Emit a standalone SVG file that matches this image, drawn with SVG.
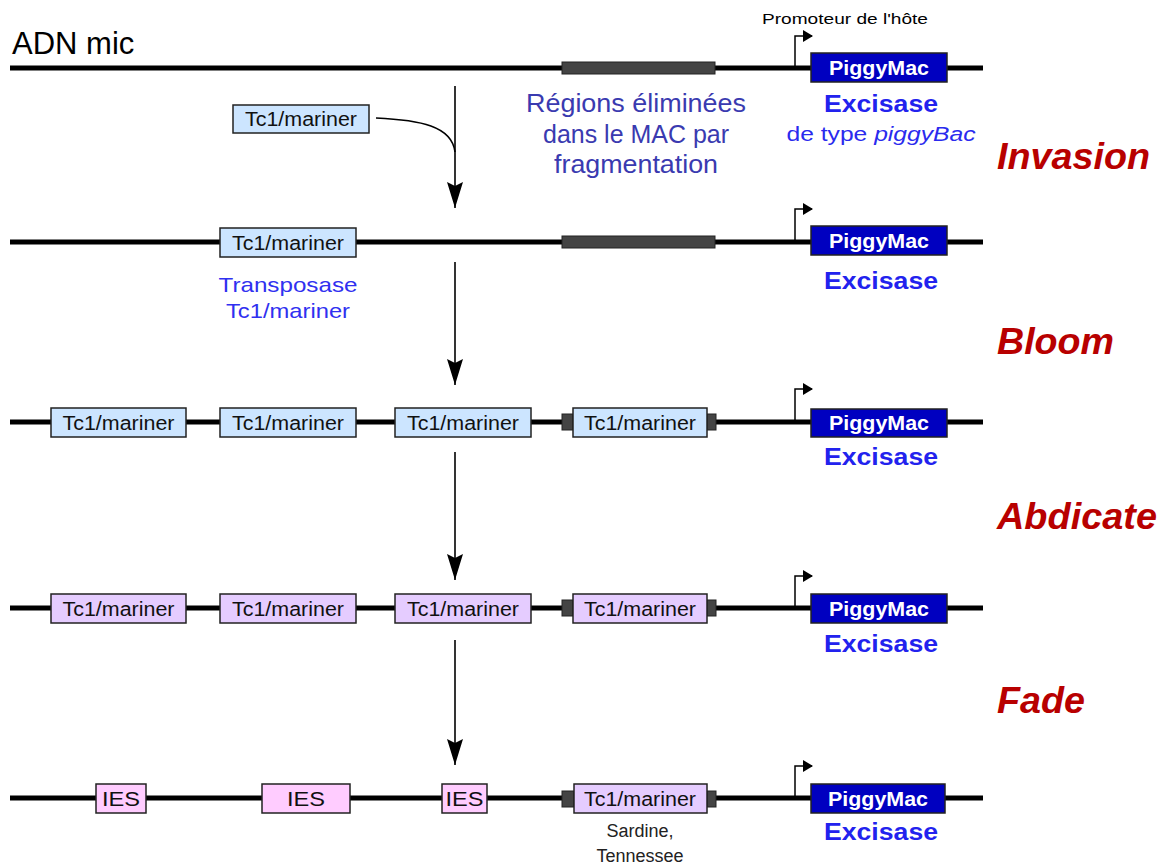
<svg xmlns="http://www.w3.org/2000/svg" width="1167" height="867" viewBox="0 0 1167 867">
<style>
text{font-family:"Liberation Sans",Arial,sans-serif}
.dna{stroke:#000;stroke-width:5;fill:none}
.gray{fill:#444;stroke:#222;stroke-width:1}
.tcb{fill:#cce5ff;stroke:#222;stroke-width:1.5}
.tcp{fill:#e5ccff;stroke:#222;stroke-width:1.5}
.ies{fill:#ffccff;stroke:#222;stroke-width:1.5}
.pm{fill:#0000c0;stroke:#222;stroke-width:1.5}
.lbl{font-size:20px;fill:#111;text-anchor:middle}
.pmt{font-size:20px;font-weight:bold;fill:#fff;text-anchor:middle}
.exc{font-size:23px;font-weight:bold;fill:#2222ee;text-anchor:middle}
.stage{font-size:37px;font-weight:bold;font-style:italic;fill:#b80000}
.prom{stroke:#000;stroke-width:1.5;fill:none}
.flow{stroke:#000;stroke-width:1.6;fill:none}
</style>
<defs>
<marker id="big" markerUnits="userSpaceOnUse" markerWidth="28" markerHeight="16" viewBox="0 0 28 16" refX="26" refY="8" orient="auto">
<path d="M26,8 L0,0 L4,8 L0,16 Z" fill="#000"/>
</marker>
<marker id="small" markerUnits="userSpaceOnUse" markerWidth="10" markerHeight="12" viewBox="0 0 10 12" refX="9" refY="6" orient="auto">
<path d="M0,0 L10,6 L0,12 Z" fill="#000"/>
</marker>
</defs>
<rect width="1167" height="867" fill="#fff"/>

<text x="12" y="54" font-size="31" fill="#000">ADN mic</text>

<g id="dna-lines">
<line class="dna" x1="10" y1="68" x2="983" y2="68"/>
<line class="dna" x1="10" y1="242" x2="983" y2="242"/>
<line class="dna" x1="10" y1="422" x2="983" y2="422"/>
<line class="dna" x1="10" y1="608" x2="983" y2="608"/>
<line class="dna" x1="10" y1="798" x2="983" y2="798"/>
</g>

<g id="connectors">
<path class="flow" d="M376,118 C420,120 452,126 455,152"/>
<line class="flow" x1="455" y1="86" x2="455" y2="208" marker-end="url(#big)"/>
<line class="flow" x1="455" y1="262" x2="455" y2="385" marker-end="url(#big)"/>
<line class="flow" x1="455" y1="452" x2="455" y2="580" marker-end="url(#big)"/>
<line class="flow" x1="455" y1="640" x2="455" y2="765" marker-end="url(#big)"/>
<path class="prom" d="M795,68 V36 H812" marker-end="url(#small)"/>
<path class="prom" d="M795,242 V209 H812" marker-end="url(#small)"/>
<path class="prom" d="M795,422 V389 H812" marker-end="url(#small)"/>
<path class="prom" d="M795,608 V576 H812" marker-end="url(#small)"/>
<path class="prom" d="M795,798 V766 H812" marker-end="url(#small)"/>
</g>

<text x="845" y="24" font-size="14" fill="#000" text-anchor="middle" textLength="166" lengthAdjust="spacingAndGlyphs">Promoteur de l'hôte</text>

<g id="row1-gray"><rect class="gray" x="562" y="62" width="153" height="12"/></g>
<g id="row1-pm"><rect class="pm" x="811" y="53" width="136" height="29"/><text class="pmt" x="879" y="75" textLength="100" lengthAdjust="spacingAndGlyphs">PiggyMac</text></g>
<g id="row1-tc"><rect class="tcb" x="233" y="105" width="136" height="28"/><text class="lbl" x="301" y="126" textLength="112" lengthAdjust="spacingAndGlyphs">Tc1/mariner</text></g>
<g id="regions" font-size="25" fill="#3a3ab0" text-anchor="middle">
<text x="636" y="112" textLength="220" lengthAdjust="spacingAndGlyphs">Régions éliminées</text>
<text x="636" y="143" textLength="186" lengthAdjust="spacingAndGlyphs">dans le MAC par</text>
<text x="636" y="173" textLength="164" lengthAdjust="spacingAndGlyphs">fragmentation</text>
</g>
<text class="exc" x="881" y="112" textLength="114" lengthAdjust="spacingAndGlyphs">Excisase</text>
<text x="881" y="141" font-size="20" fill="#2a2aee" text-anchor="middle" textLength="189" lengthAdjust="spacingAndGlyphs">de type <tspan font-style="italic">piggyBac</tspan></text>
<text class="stage" x="997" y="169" textLength="153" lengthAdjust="spacingAndGlyphs">Invasion</text>

<g id="row2-tc"><rect class="tcb" x="220" y="228" width="136" height="29"/><text class="lbl" x="288" y="250" textLength="112" lengthAdjust="spacingAndGlyphs">Tc1/mariner</text></g>
<g id="row2-gray"><rect class="gray" x="562" y="236" width="153" height="12"/></g>
<g id="row2-pm"><rect class="pm" x="811" y="226" width="136" height="29"/><text class="pmt" x="879" y="248" textLength="100" lengthAdjust="spacingAndGlyphs">PiggyMac</text></g>
<text class="exc" x="881" y="289" textLength="114" lengthAdjust="spacingAndGlyphs">Excisase</text>
<g font-size="21" fill="#3030f0" text-anchor="middle">
<text x="288" y="292" textLength="139" lengthAdjust="spacingAndGlyphs">Transposase</text>
<text x="288" y="318" textLength="124" lengthAdjust="spacingAndGlyphs">Tc1/mariner</text>
</g>
<text class="stage" x="997" y="354" textLength="117" lengthAdjust="spacingAndGlyphs">Bloom</text>

<g id="row3-tc1"><rect class="tcb" x="51" y="408" width="135" height="29"/><text class="lbl" x="118.5" y="430" textLength="112" lengthAdjust="spacingAndGlyphs">Tc1/mariner</text></g>
<g id="row3-tc2"><rect class="tcb" x="220" y="408" width="136" height="29"/><text class="lbl" x="288" y="430" textLength="112" lengthAdjust="spacingAndGlyphs">Tc1/mariner</text></g>
<g id="row3-tc3"><rect class="tcb" x="395" y="408" width="136" height="29"/><text class="lbl" x="463" y="430" textLength="112" lengthAdjust="spacingAndGlyphs">Tc1/mariner</text></g>
<g id="row3-tc4"><rect class="gray" x="562" y="414" width="11" height="16"/><rect class="gray" x="707" y="414" width="9" height="16"/><rect class="tcb" x="573" y="408" width="134" height="29"/><text class="lbl" x="640" y="430" textLength="112" lengthAdjust="spacingAndGlyphs">Tc1/mariner</text></g>
<g id="row3-pm"><rect class="pm" x="811" y="409" width="136" height="28"/><text class="pmt" x="879" y="430" textLength="100" lengthAdjust="spacingAndGlyphs">PiggyMac</text></g>
<text class="exc" x="881" y="465" textLength="114" lengthAdjust="spacingAndGlyphs">Excisase</text>
<text class="stage" x="997" y="529" textLength="160" lengthAdjust="spacingAndGlyphs">Abdicate</text>

<g id="row4-tc1"><rect class="tcp" x="51" y="594" width="135" height="29"/><text class="lbl" x="118.5" y="616" textLength="112" lengthAdjust="spacingAndGlyphs">Tc1/mariner</text></g>
<g id="row4-tc2"><rect class="tcp" x="220" y="594" width="136" height="29"/><text class="lbl" x="288" y="616" textLength="112" lengthAdjust="spacingAndGlyphs">Tc1/mariner</text></g>
<g id="row4-tc3"><rect class="tcp" x="395" y="594" width="136" height="29"/><text class="lbl" x="463" y="616" textLength="112" lengthAdjust="spacingAndGlyphs">Tc1/mariner</text></g>
<g id="row4-tc4"><rect class="gray" x="562" y="600" width="11" height="16"/><rect class="gray" x="707" y="600" width="9" height="16"/><rect class="tcp" x="573" y="594" width="134" height="29"/><text class="lbl" x="640" y="616" textLength="112" lengthAdjust="spacingAndGlyphs">Tc1/mariner</text></g>
<g id="row4-pm"><rect class="pm" x="811" y="594" width="136" height="29"/><text class="pmt" x="879" y="616" textLength="100" lengthAdjust="spacingAndGlyphs">PiggyMac</text></g>
<text class="exc" x="881" y="652" textLength="114" lengthAdjust="spacingAndGlyphs">Excisase</text>
<text class="stage" x="997" y="713" textLength="88" lengthAdjust="spacingAndGlyphs">Fade</text>

<g id="row5-ies1"><rect class="ies" x="96" y="784" width="50" height="29"/><text class="lbl" x="121" y="806" textLength="38" lengthAdjust="spacingAndGlyphs">IES</text></g>
<g id="row5-ies2"><rect class="ies" x="262" y="784" width="88" height="29"/><text class="lbl" x="306" y="806" textLength="38" lengthAdjust="spacingAndGlyphs">IES</text></g>
<g id="row5-ies3"><rect class="ies" x="442" y="784" width="45" height="29"/><text class="lbl" x="464.5" y="806" textLength="38" lengthAdjust="spacingAndGlyphs">IES</text></g>
<g id="row5-tc"><rect class="gray" x="562" y="791" width="12" height="16"/><rect class="gray" x="707" y="791" width="9" height="16"/><rect class="tcp" x="574" y="784" width="133" height="29"/><text class="lbl" x="640" y="806" textLength="112" lengthAdjust="spacingAndGlyphs">Tc1/mariner</text></g>
<g id="row5-pm"><rect class="pm" x="811" y="784" width="134" height="29"/><text class="pmt" x="878" y="806" textLength="100" lengthAdjust="spacingAndGlyphs">PiggyMac</text></g>
<text class="exc" x="881" y="840" textLength="114" lengthAdjust="spacingAndGlyphs">Excisase</text>
<g font-size="18" fill="#222" text-anchor="middle">
<text x="640" y="837">Sardine,</text>
<text x="640" y="862">Tennessee</text>
</g>
</svg>
